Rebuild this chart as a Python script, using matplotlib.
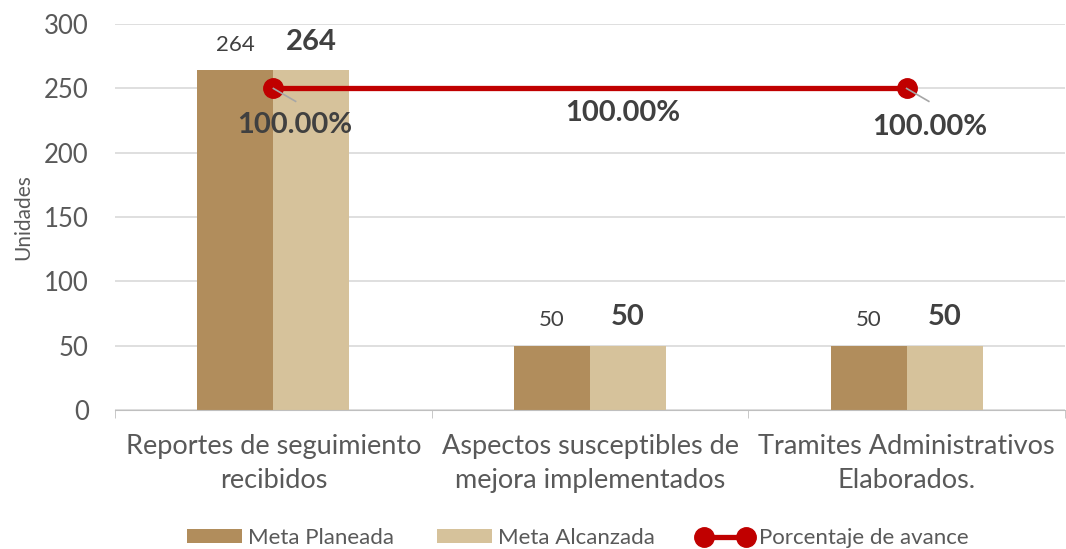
import matplotlib
matplotlib.use("Agg")
import matplotlib.pyplot as plt
import numpy as np

categories = ["Reportes de seguimiento\nrecibidos", "Aspectos susceptibles de\nmejora implementados", "Tramites Administrativos\nElaborados."]
meta_planeada = [264, 50, 50]
meta_alcanzada = [264, 50, 50]
porcentaje = [1.0, 1.0, 1.0]
series_names = ["Meta Planeada", "Meta Alcanzada", "Porcentaje de avance"]

plt.rcParams['font.family'] = ['Lato', 'DejaVu Sans']
c_dark = "#B18D5C"
c_light = "#D6C29B"
c_red = "#C00000"
txt = "#404040"

fig = plt.figure(figsize=(10.66, 5.49), dpi=100)
ax = fig.add_axes([0.108, 0.253, 0.891, 0.703])
x = np.arange(len(categories))
w = 0.24
b1 = ax.bar(x - w/2, meta_planeada, w, color=c_dark, label=series_names[0], zorder=2)
b2 = ax.bar(x + w/2, meta_alcanzada, w, color=c_light, label=series_names[1], zorder=2)
ax.set_xlim(-0.5, 2.5)
ax.set_ylim(0, 300)
ax.set_yticks(np.arange(0, 301, 50))
ax.yaxis.grid(True, color="#D9D9D9", linewidth=1.2, zorder=0)
ax.set_axisbelow(True)
for s in ["top", "right", "left"]:
    ax.spines[s].set_visible(False)
ax.spines["bottom"].set_color("#BFBFBF")
ax.tick_params(axis="y", length=0, labelsize=18.5, labelcolor="#595959", pad=19)
ax.set_xticks(x)
ax.set_xticklabels(categories, fontsize=19.5, color="#595959", linespacing=1.45)
ax.tick_params(axis="x", length=0, pad=17)
ax.set_xticks([-0.5, 0.5, 1.5, 2.5], minor=True)
ax.tick_params(axis="x", which="minor", length=6, color="#BFBFBF")
ax.set_ylabel("Unidades", fontsize=15, color="#595959", labelpad=8)

for xi, v in zip(x, meta_planeada):
    ax.text(xi - w/2, v + 12, f"{v}", ha="center", va="bottom", fontsize=16, color=txt)
for xi, v in zip(x, meta_alcanzada):
    ax.text(xi + w/2, v + 12, f"{v}", ha="center", va="bottom", fontsize=21, fontweight="bold", color=txt)

ax2 = ax.twinx()
ax2.set_ylim(0, 1.2)
ax2.axis("off")
line, = ax2.plot(x, porcentaje, color=c_red, linewidth=3.8, marker="o", markersize=14,
                 markevery=[0, 2], label=series_names[2], zorder=5)
offsets = [(0.066, -0.114), (0.104, -0.077), (0.073, -0.12)]
for xi, p, (dx, dy) in zip(x, porcentaje, offsets):
    ax2.text(xi + dx, p + dy, f"{p*100:.2f}%", ha="center", va="center", fontsize=21,
             fontweight="bold", color=txt, zorder=6)
for xi in [0, 2]:
    ax2.plot([xi, xi + 0.07], [porcentaje[xi], porcentaje[xi] - 0.04], color="#A6A6A6", linewidth=1.2, zorder=6)

handles = [b1, b2, line]
fig.legend(handles, series_names, loc="center", bbox_to_anchor=(0.542, 0.02), ncol=3,
           frameon=False, fontsize=16, labelcolor="#595959", handlelength=2.5,
           handletextpad=0.28, columnspacing=1.9, numpoints=2, handleheight=0.6)
fig.savefig("out.png", dpi=100)
